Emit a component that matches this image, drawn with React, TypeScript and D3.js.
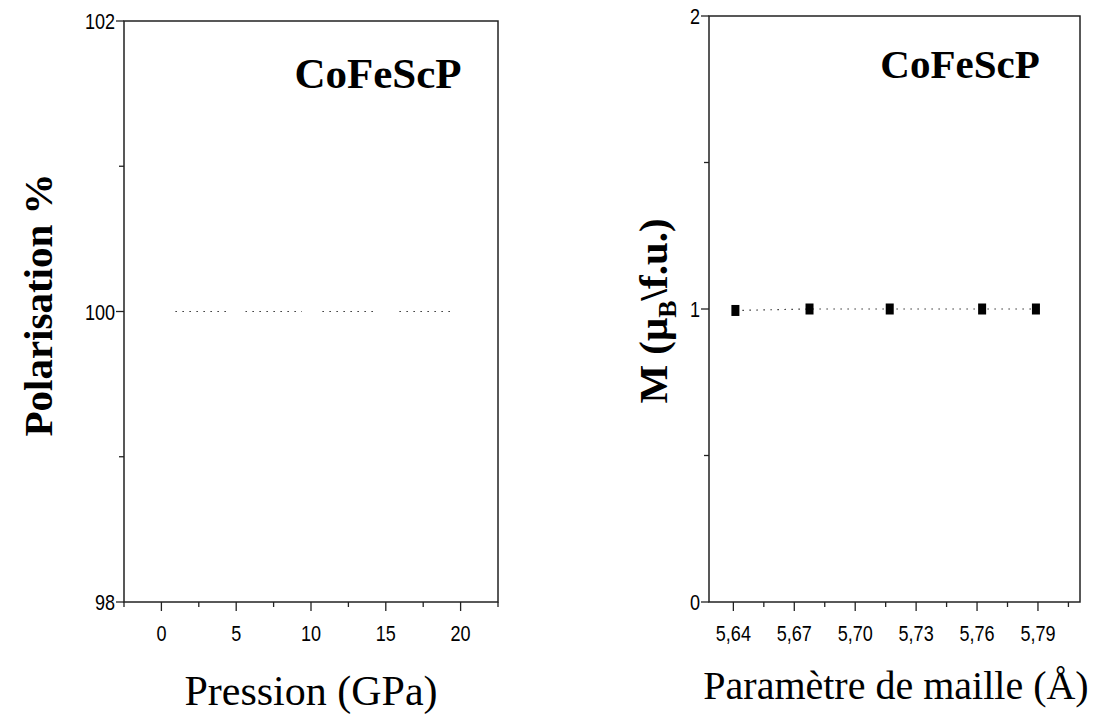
import React, { useEffect, useRef } from 'react';
import * as d3 from 'd3';

// left panel: polarisation vs pressure
const pressure = [0, 5, 10, 15, 20];
const polarisation = [100, 100, 100, 100, 100];
const pressureTicks = [0, 5, 10, 15, 20];
const pressureMinor = [-2.5, 2.5, 7.5, 12.5, 17.5, 22.5];
const polTicks = [98, 100, 102];
const polMinor = [99, 101];

// right panel: moment vs lattice parameter
const lattice = [5.641, 5.6775, 5.717, 5.7625, 5.789];
const moment = [0.995, 1.0, 1.0, 1.0, 1.0];
const latticeTicks = [5.64, 5.67, 5.7, 5.73, 5.76, 5.79];
const latticeMinor = [5.655, 5.685, 5.715, 5.745, 5.775, 5.805];
const momentTicks = [0, 1, 2];
const momentMinor = [0.5, 1.5];

const serif = '"Liberation Serif", "Times New Roman", serif';
const sans = '"Liberation Sans", Arial, sans-serif';

export default function App() {
  const svgRef = useRef<SVGSVGElement>(null);

  useEffect(() => {
    if (!svgRef.current) return;
    const root = d3.select(svgRef.current);
    root.selectAll('*').remove();

    const drawAxes = (
      g: any,
      x: d3.ScaleLinear<number, number>,
      y: d3.ScaleLinear<number, number>,
      xTicks: number[], xMinor: number[], yTicks: number[], yMinor: number[],
      xFmt: (v: number) => string
    ) => {
      const [x0, x1] = x.range();
      const [y0, y1] = y.range();
      // frame
      g.append('rect')
        .attr('x', x0).attr('y', y1)
        .attr('width', x1 - x0).attr('height', y0 - y1)
        .attr('fill', 'none').attr('stroke', '#222').attr('stroke-width', 1.5);

      // x ticks
      g.selectAll('.xt').data(xTicks).enter().append('line')
        .attr('x1', (d: number) => x(d)).attr('x2', (d: number) => x(d))
        .attr('y1', y0).attr('y2', y0 + 9)
        .attr('stroke', '#222').attr('stroke-width', 1.3);
      g.selectAll('.xm').data(xMinor).enter().append('line')
        .attr('x1', (d: number) => x(d)).attr('x2', (d: number) => x(d))
        .attr('y1', y0).attr('y2', y0 + 5)
        .attr('stroke', '#222').attr('stroke-width', 1.3);
      // condensed look: squeeze horizontally
      g.selectAll('.xl').data(xTicks).enter().append('text')
        .attr('transform', (d: number) => `translate(${x(d)},${y0 + 39}) scale(0.82,1)`)
        .attr('text-anchor', 'middle')
        .attr('font-family', sans).attr('font-size', 22)
        .text(xFmt);

      // y ticks
      g.selectAll('.yt').data(yTicks).enter().append('line')
        .attr('x1', x0 - 8).attr('x2', x0)
        .attr('y1', (d: number) => y(d)).attr('y2', (d: number) => y(d))
        .attr('stroke', '#222').attr('stroke-width', 1.3);
      g.selectAll('.ym').data(yMinor).enter().append('line')
        .attr('x1', x0 - 5).attr('x2', x0)
        .attr('y1', (d: number) => y(d)).attr('y2', (d: number) => y(d))
        .attr('stroke', '#222').attr('stroke-width', 1.3);
      g.selectAll('.yl').data(yTicks).enter().append('text')
        .attr('transform', (d: number) => `translate(${x0 - 9},${y(d) + 8}) scale(0.82,1)`)
        .attr('text-anchor', 'end')
        .attr('font-family', sans).attr('font-size', 22)
        .text((d: number) => String(d));
    };

    // ---- left panel ----
    const xL = d3.scaleLinear().domain([-2.5, 22.5]).range([124, 498]);
    const yL = d3.scaleLinear().domain([98, 102]).range([602, 21]);
    const gL = root.append('g');

    const lineL = d3.line<number>()
      .x((_, i) => xL(pressure[i]))
      .y(d => yL(d));
    gL.append('path')
      .datum(polarisation)
      .attr('d', lineL)
      .attr('fill', 'none')
      .attr('stroke', '#333')
      .attr('stroke-width', 1.2)
      .attr('stroke-dasharray', '1.5,5.5');
    // hidden (white) markers break the dotted line
    gL.selectAll('.ptL').data(polarisation).enter().append('rect')
      .attr('x', (_: number, i: number) => xL(pressure[i]) - 9)
      .attr('y', (d: number) => yL(d) - 5)
      .attr('width', 18).attr('height', 10)
      .attr('fill', 'white');

    drawAxes(gL, xL, yL, pressureTicks, pressureMinor, polTicks, polMinor, d => String(d));

    gL.append('text')
      .attr('x', 378).attr('y', 88)
      .attr('text-anchor', 'middle')
      .attr('font-family', serif).attr('font-weight', 'bold').attr('font-size', 43)
      .text('CoFeScP');
    gL.append('text')
      .attr('transform', 'translate(52,305) rotate(-90)')
      .attr('text-anchor', 'middle')
      .attr('font-family', serif).attr('font-weight', 'bold').attr('font-size', 41)
      .text('Polarisation %');
    gL.append('text')
      .attr('x', 311).attr('y', 705)
      .attr('text-anchor', 'middle')
      .attr('font-family', serif).attr('font-size', 42)
      .text('Pression (GPa)');

    // ---- right panel ----
    const xR = d3.scaleLinear().domain([5.628, 5.8107]).range([709, 1080]);
    const yR = d3.scaleLinear().domain([0, 2]).range([602, 16]);
    const gR = root.append('g');

    const lineR = d3.line<number>()
      .x((_, i) => xR(lattice[i]))
      .y(d => yR(d));
    gR.append('path')
      .datum(moment)
      .attr('d', lineR)
      .attr('fill', 'none')
      .attr('stroke', '#333')
      .attr('stroke-width', 1.2)
      .attr('stroke-dasharray', '1.5,5.5');
    gR.selectAll('.ptR').data(moment).enter().append('rect')
      .attr('x', (_: number, i: number) => xR(lattice[i]) - 4)
      .attr('y', (d: number) => yR(d) - 5.5)
      .attr('width', 8).attr('height', 11)
      .attr('fill', '#000');

    drawAxes(gR, xR, yR, latticeTicks, latticeMinor, momentTicks, momentMinor,
      d => d.toFixed(2).replace('.', ','));

    gR.append('text')
      .attr('x', 960).attr('y', 78)
      .attr('text-anchor', 'middle')
      .attr('font-family', serif).attr('font-weight', 'bold').attr('font-size', 41)
      .text('CoFeScP');

    const yLab = gR.append('text')
      .attr('transform', 'translate(667,311) rotate(-90)')
      .attr('text-anchor', 'middle')
      .attr('font-family', serif).attr('font-weight', 'bold').attr('font-size', 41);
    yLab.append('tspan').text('M (\u03bc');
    yLab.append('tspan').attr('font-size', 26).attr('dy', 9).text('B');
    yLab.append('tspan').attr('dy', -9).text('\\f.u.)');

    gR.append('text')
      .attr('x', 896).attr('y', 699)
      .attr('text-anchor', 'middle')
      .attr('font-family', serif).attr('font-size', 40)
      .text('Param\u00e8tre de maille (\u00c5)');
  }, []);

  return (
    <div style={{ position: 'absolute', left: 0, top: 0 }}>
      <svg ref={svgRef} width={1093} height={717} style={{ display: 'block', background: '#fff' }}></svg>
    </div>
  );
}
